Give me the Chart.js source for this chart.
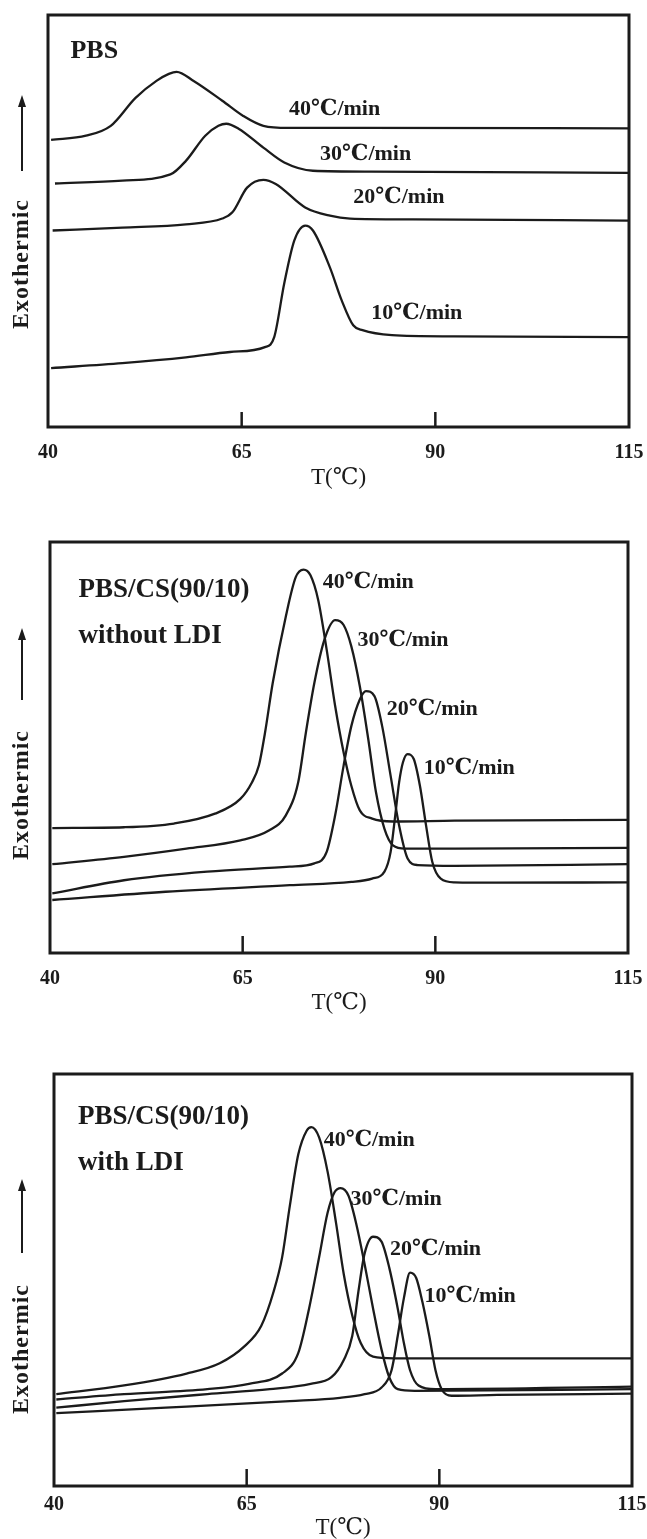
<!DOCTYPE html>
<html>
<head>
<meta charset="utf-8">
<script src="https://cdn.jsdelivr.net/npm/chart.js@4"></script>
<style>
  body { margin: 0; background: #fff; }
  #wrap { position: relative; width: 647px; height: 1539px; overflow: hidden; }
  canvas { position: absolute; left: 0; }
</style>
</head>
<body>
<div id="wrap">
  <canvas id="c1" width="647" height="489" style="top:0px"></canvas>
  <canvas id="c2" width="647" height="509" style="top:505px"></canvas>
  <canvas id="c3" width="647" height="514" style="top:1025px"></canvas>
</div>
<script>
// DSC cooling curves, T(℃) vs exothermic heat flow (arbitrary units 0-100)
const xTicks = [40, 65, 90, 115];
const innerTicks = [65, 90];
const rates = ["40℃/min", "30℃/min", "20℃/min", "10℃/min"];

// --- PBS ---
const pbs40 = [[40.4,69.7],[44.9,70.7],[48.1,73.1],[51.3,79.9],[54.0,84.0],[55.6,85.7],[56.6,86.2],[58.8,84.0],[62.5,79.2],[65.2,75.5],[67.8,73.1],[71.0,72.6],[80,72.6],[115,72.5]];
const pbs30 = [[40.9,59.1],[49.6,59.8],[55.8,61.3],[57.8,64.6],[60.3,70.7],[62.0,73.1],[63.0,73.6],[64.6,72.4],[67.8,67.8],[70.5,64.2],[74.2,62.2],[81.7,62.0],[115,61.7]];
const pbs20 = [[40.6,47.7],[49.6,48.4],[57.8,49.2],[62.5,50.6],[63.8,52.1],[65.7,58.1],[67.8,60.0],[69.4,59.0],[73.2,53.3],[76.4,51.3],[79.0,50.6],[87.1,50.4],[115,50.1]];
const pbs10 = [[40.4,14.3],[49.6,15.5],[57.8,16.9],[63.5,18.2],[68.0,19.4],[69.2,21.8],[70.5,34.9],[71.8,45.3],[73.2,48.9],[74.2,47.7],[76.4,38.7],[77.9,30.8],[79.4,24.7],[80.6,23.5],[84.4,22.3],[92.4,22.0],[115,21.8]];
const pbsLabelPos = [[77.0,77.2],[81.0,66.3],[85.3,55.7],[87.6,27.5]];

// --- PBS/CS(90/10) without LDI ---
const wo40 = [[40.3,30.4],[49.6,30.6],[56.1,31.5],[61.4,33.9],[64.7,37.5],[66.2,41.5],[67.1,45.6],[67.9,53.6],[68.9,65.7],[70.6,81.9],[71.9,91.5],[72.9,93.3],[73.8,91.9],[74.8,85.9],[75.9,73.8],[77.0,60.1],[78.1,48.8],[79.1,40.7],[80.2,34.7],[81.8,32.7],[84.5,32.0],[92.5,32.2],[115,32.4]];
const wo30 = [[40.3,21.6],[49.6,23.4],[57.7,25.4],[64.7,27.4],[68.4,29.8],[70.6,33.5],[72.2,41.5],[73.2,53.6],[74.3,65.7],[75.6,76.2],[77.0,81.0],[78.1,79.8],[79.1,74.6],[80.2,64.9],[81.3,52.0],[82.3,39.1],[83.4,30.2],[84.5,26.2],[86.1,25.4],[92.5,25.4],[115,25.6]];
const wo20 = [[40.3,14.5],[49.6,17.7],[60.4,19.8],[71.1,21.0],[74.3,21.8],[75.9,24.6],[77.0,33.5],[78.1,45.6],[79.1,55.2],[80.2,61.7],[81.0,63.7],[82.1,62.5],[83.1,55.2],[84.2,43.1],[85.3,31.0],[86.4,23.0],[87.7,21.4],[92.5,21.2],[115,21.6]];
const wo10 = [[40.3,12.9],[55.0,14.9],[71.1,16.5],[79.1,17.3],[81.8,18.1],[83.4,19.8],[84.2,24.6],[84.8,33.5],[85.3,41.5],[85.8,46.4],[86.4,48.4],[87.2,47.2],[88.0,40.7],[88.8,31.0],[89.6,22.2],[90.7,18.1],[92.5,17.2],[97.9,17.1],[115,17.2]];
const woLabelPos = [[81.3,90.3],[85.8,76.2],[89.6,59.4],[94.4,44.9]];

// --- PBS/CS(90/10) with LDI ---
const w40 = [[40.3,22.3],[49.1,24.4],[57.2,27.3],[61.5,29.8],[64.7,33.9],[66.9,38.9],[68.5,47.2],[69.6,55.5],[70.6,68.0],[71.7,80.5],[72.8,86.3],[73.4,87.1],[74.4,84.6],[75.5,76.3],[76.6,63.8],[77.6,51.4],[78.7,41.4],[79.8,34.7],[81.4,31.4],[84.1,31.0],[115,31.0]];
const w30 = [[40.3,21.0],[49.1,22.3],[59.9,23.5],[65.3,24.8],[69.6,27.3],[71.7,32.3],[73.1,43.1],[74.4,55.5],[75.5,66.3],[76.4,71.3],[77.2,72.3],[78.2,70.5],[79.2,63.8],[80.3,53.9],[81.4,43.1],[82.5,33.1],[83.5,26.4],[84.6,23.5],[86.8,23.1],[115,23.5]];
const w20 = [[40.3,19.0],[49.1,20.6],[59.9,22.3],[68.0,23.5],[73.3,24.8],[76.0,26.4],[77.6,30.6],[78.7,36.4],[79.5,47.2],[80.3,56.4],[81.4,60.5],[82.5,59.3],[83.5,53.0],[84.6,43.1],[85.4,34.7],[86.2,28.1],[87.3,24.4],[89.5,23.5],[115,24.1]];
const w10 = [[40.3,17.7],[54.5,19.0],[70.6,20.6],[77.1,21.4],[80.3,22.3],[82.5,23.9],[83.8,28.1],[84.6,36.4],[85.4,45.6],[86.2,51.8],[87.0,50.5],[87.8,44.7],[88.7,36.4],[89.5,28.1],[90.3,23.5],[91.6,21.9],[97.5,22.1],[115,22.4]];
const wLabelPos = [[80.9,83.8],[84.4,69.7],[89.5,57.4],[94.0,46.0]];

const ink = "#1b1b1b";
const serif = "'Liberation Serif', 'Times New Roman', 'DejaVu Serif', serif";

// draws frame, inward ticks, "Exothermic" arrow and the in-plot texts
function makeDecor(cfg) {
  return {
    id: "decor",
    afterDatasetsDraw(chart) {
      const { ctx, chartArea: a, scales: { x, y } } = chart;
      ctx.save();
      ctx.strokeStyle = ink;
      ctx.fillStyle = ink;
      ctx.lineWidth = 3;
      ctx.strokeRect(a.left, a.top, a.right - a.left, a.bottom - a.top);

      ctx.lineWidth = 2.5;
      innerTicks.forEach(v => {
        const px = x.getPixelForValue(v);
        ctx.beginPath();
        ctx.moveTo(px, a.bottom);
        ctx.lineTo(px, a.bottom - cfg.tickLen);
        ctx.stroke();
      });

      // arrow
      const ax = 22;
      ctx.lineWidth = 2;
      ctx.beginPath();
      ctx.moveTo(ax, a.top + cfg.arrow[1]);
      ctx.lineTo(ax, a.top + cfg.arrow[0] + 8);
      ctx.stroke();
      ctx.beginPath();
      ctx.moveTo(ax, a.top + cfg.arrow[0]);
      ctx.lineTo(ax - 4, a.top + cfg.arrow[0] + 12);
      ctx.lineTo(ax + 4, a.top + cfg.arrow[0] + 12);
      ctx.closePath();
      ctx.fill();

      // Exothermic
      ctx.save();
      ctx.translate(ax, a.top + cfg.exoY);
      ctx.rotate(-Math.PI / 2);
      ctx.font = "bold 24px " + serif;
      ctx.letterSpacing = "1px";
      ctx.textAlign = "center";
      ctx.textBaseline = "middle";
      ctx.fillText("Exothermic", 0, 0);
      ctx.restore();

      // rate labels
      ctx.font = "bold 22px " + serif;
      ctx.textAlign = "center";
      ctx.textBaseline = "middle";
      cfg.labelPos.forEach((p, i) => {
        ctx.fillText(rates[i], x.getPixelForValue(p[0]), y.getPixelForValue(p[1]));
      });

      // sample name
      ctx.font = "bold " + cfg.titleSize + "px " + serif;
      ctx.textAlign = "left";
      cfg.title.forEach((t, i) => {
        ctx.fillText(t, x.getPixelForValue(cfg.titlePos[i][0]), y.getPixelForValue(cfg.titlePos[i][1]));
      });
      ctx.restore();
    }
  };
}

function makePanel(id, curves, cfg) {
  const datasets = curves.map(c => ({
    data: c.map(p => ({ x: p[0], y: p[1] })),
    borderColor: ink,
    borderWidth: 2.3,
    pointRadius: 0,
    fill: false,
    cubicInterpolationMode: "monotone"
  }));
  new Chart(document.getElementById(id), {
    type: "line",
    data: { datasets },
    options: {
      responsive: false,
      animation: false,
      layout: { padding: cfg.padding },
      plugins: { legend: { display: false }, tooltip: { enabled: false } },
      scales: {
        x: {
          type: "linear",
          min: 40,
          max: 115,
          afterBuildTicks: s => { s.ticks = xTicks.map(v => ({ value: v })); },
          grid: { display: false, drawTicks: false },
          border: { display: false },
          ticks: {
            padding: 0,
            color: ink,
            font: { family: serif, size: 20, weight: "bold", lineHeight: cfg.tickLH }
          },
          title: {
            display: true,
            text: "T(℃)",
            color: ink,
            padding: { top: cfg.titleTop, bottom: 0 },
            font: { family: serif, size: 23, lineHeight: 1 }
          }
        },
        y: { min: 0, max: 100, display: false }
      }
    },
    plugins: [makeDecor(cfg)]
  });
}

makePanel("c1", [pbs40, pbs30, pbs20, pbs10], {
  padding: { left: 48, right: 18, top: 15, bottom: 0 },
  tickLH: 2.6, titleTop: -13, tickLen: 15,
  arrow: [80, 156], exoY: 249,
  labelPos: pbsLabelPos,
  title: ["PBS"], titlePos: [[42.9, 91.3]], titleSize: 26
});

makePanel("c2", [wo40, wo30, wo20, wo10], {
  padding: { left: 50, right: 19, top: 37, bottom: 0 },
  tickLH: 2.6, titleTop: -14, tickLen: 17,
  arrow: [86, 158], exoY: 253,
  labelPos: woLabelPos,
  title: ["PBS/CS(90/10)", "without LDI"], titlePos: [[43.7, 88.3], [43.7, 77.0]], titleSize: 27
});

makePanel("c3", [w40, w30, w20, w10], {
  padding: { left: 54, right: 15, top: 49, bottom: 0 },
  tickLH: 1.9, titleTop: -8, tickLen: 17,
  arrow: [105, 179], exoY: 275,
  labelPos: wLabelPos,
  title: ["PBS/CS(90/10)", "with LDI"], titlePos: [[43.1, 89.6], [43.1, 78.4]], titleSize: 27
});
</script>
</body>
</html>
